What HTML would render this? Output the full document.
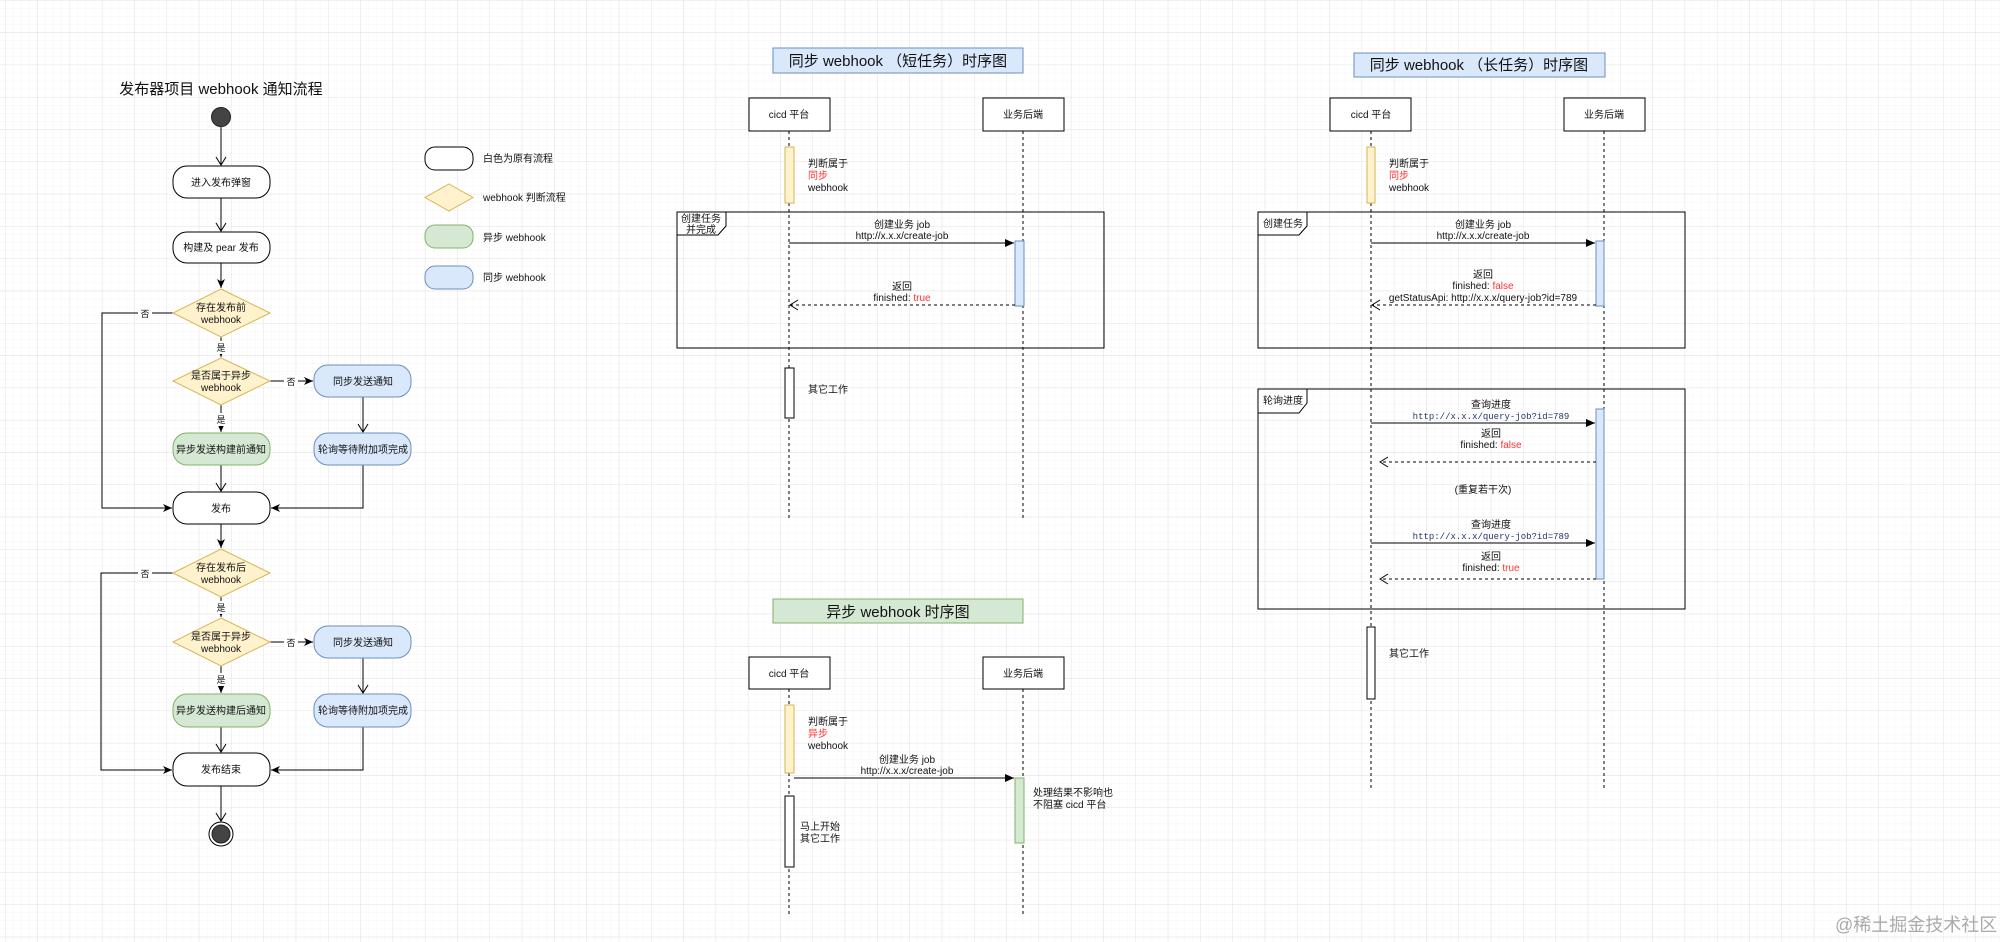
<!DOCTYPE html>
<html><head><meta charset="utf-8"><style>
html,body{margin:0;padding:0;background:#fff}
svg{display:block}
text{font-family:"Liberation Sans","Noto Sans CJK SC",sans-serif;fill:#111}
.t{font-size:10px}
.m{font-family:"Liberation Mono","Noto Sans CJK SC",monospace;font-size:9px;fill:#23356b}
.r{fill:#ff3333}
</style></head><body>
<svg width="2000" height="942" viewBox="0 0 2000 942" xmlns="http://www.w3.org/2000/svg">
<defs>
<pattern id="gmin" x="5" y="0" width="8.075" height="8.075" patternUnits="userSpaceOnUse">
<path d="M0 0H8.075M0 0V8.075" stroke="#f4f4f4" stroke-width="1" fill="none"/></pattern>
<pattern id="gmaj" x="5" y="0" width="32.3" height="32.3" patternUnits="userSpaceOnUse">
<path d="M0 0H32.3M0 0V32.3" stroke="#e3e3e3" stroke-width="1" fill="none"/></pattern>
<marker id="af" markerWidth="10" markerHeight="10" refX="9" refY="5" orient="auto" markerUnits="userSpaceOnUse"><path d="M0 1L9 5L0 9L2.5 5Z" fill="#000"/></marker>
<marker id="ao" markerWidth="10" markerHeight="12" refX="9" refY="6" orient="auto" markerUnits="userSpaceOnUse"><path d="M1 1L9 6L1 11" fill="none" stroke="#000" stroke-width="1"/></marker>
<marker id="sf" markerWidth="10" markerHeight="10" refX="9" refY="5" orient="auto" markerUnits="userSpaceOnUse"><path d="M0 1L9 5L0 9Z" fill="#000"/></marker>
</defs>
<rect width="2000" height="942" fill="#fff"/>
<rect width="2000" height="942" fill="url(#gmin)"/>
<rect width="2000" height="942" fill="url(#gmaj)"/>

<!-- LEFT FLOWCHART -->
<text x="221" y="94" font-size="15" text-anchor="middle">发布器项目 webhook 通知流程</text>
<circle cx="221" cy="117" r="9.5" fill="#444" stroke="#222"/>
<g stroke="#000" stroke-width="1" fill="none">
<path d="M221 127V165" marker-end="url(#ao)"/>
<path d="M221 198V231" marker-end="url(#ao)"/>
<path d="M221 263V288" marker-end="url(#af)"/>
<path d="M221 337V357" marker-end="url(#af)"/>
<path d="M173 313H102V508H172" marker-end="url(#af)"/>
<path d="M270 381H313" marker-end="url(#af)"/>
<path d="M221 405V432" marker-end="url(#af)"/>
<path d="M363 397V432" marker-end="url(#ao)"/>
<path d="M221 465V491" marker-end="url(#ao)"/>
<path d="M363 465V508H271" marker-end="url(#af)"/>
<path d="M221 524V548" marker-end="url(#af)"/>
<path d="M221 597V617" marker-end="url(#af)"/>
<path d="M173 573H101V770H172" marker-end="url(#af)"/>
<path d="M270 642H313" marker-end="url(#af)"/>
<path d="M221 666V693" marker-end="url(#af)"/>
<path d="M363 658V693" marker-end="url(#ao)"/>
<path d="M221 727V752" marker-end="url(#ao)"/>
<path d="M363 727V770H271" marker-end="url(#af)"/>
<path d="M221 786V821" marker-end="url(#ao)"/>
</g>
<g class="t" text-anchor="middle">
<rect x="138" y="306" width="14" height="13" fill="#fff"/><text x="145" y="317" font-size="9">否</text>
<rect x="214" y="341" width="14" height="13" fill="#fff"/><text x="221" y="351" font-size="9">是</text>
<rect x="284" y="375" width="14" height="13" fill="#fff"/><text x="291" y="385" font-size="9">否</text>
<rect x="214" y="413" width="14" height="13" fill="#fff"/><text x="221" y="423" font-size="9">是</text>
<rect x="138" y="566" width="14" height="13" fill="#fff"/><text x="145" y="577" font-size="9">否</text>
<rect x="214" y="601" width="14" height="13" fill="#fff"/><text x="221" y="611" font-size="9">是</text>
<rect x="284" y="636" width="14" height="13" fill="#fff"/><text x="291" y="646" font-size="9">否</text>
<rect x="214" y="673" width="14" height="13" fill="#fff"/><text x="221" y="683" font-size="9">是</text>
</g>
<g stroke-width="1">
<rect x="173" y="166" width="97" height="32" rx="14" fill="#fff" stroke="#000"/>
<rect x="173" y="232" width="97" height="31" rx="14" fill="#fff" stroke="#000"/>
<path d="M221 289L270 313L221 337L173 313Z" fill="#fff2cc" stroke="#d6b656"/>
<path d="M221 358L270 381L221 405L173 381Z" fill="#fff2cc" stroke="#d6b656"/>
<rect x="314" y="365" width="97" height="32" rx="14" fill="#dae8fc" stroke="#6c8ebf"/>
<rect x="173" y="433" width="97" height="32" rx="14" fill="#d5e8d4" stroke="#82b366"/>
<rect x="314" y="433" width="97" height="32" rx="14" fill="#dae8fc" stroke="#6c8ebf"/>
<rect x="173" y="492" width="97" height="32" rx="14" fill="#fff" stroke="#000"/>
<path d="M221 549L270 573L221 597L173 573Z" fill="#fff2cc" stroke="#d6b656"/>
<path d="M221 618L270 642L221 666L173 642Z" fill="#fff2cc" stroke="#d6b656"/>
<rect x="314" y="626" width="97" height="32" rx="14" fill="#dae8fc" stroke="#6c8ebf"/>
<rect x="173" y="694" width="97" height="33" rx="14" fill="#d5e8d4" stroke="#82b366"/>
<rect x="314" y="694" width="97" height="33" rx="14" fill="#dae8fc" stroke="#6c8ebf"/>
<rect x="173" y="753" width="97" height="33" rx="14" fill="#fff" stroke="#000"/>
</g>
<circle cx="221" cy="834" r="12" fill="#fff" stroke="#000"/>
<circle cx="221" cy="834" r="9" fill="#444" stroke="#222"/>
<g class="t" text-anchor="middle">
<text x="221" y="186">进入发布弹窗</text>
<text x="221" y="251">构建及 pear 发布</text>
<text x="221" y="311">存在发布前</text><text x="221" y="323">webhook</text>
<text x="221" y="379">是否属于异步</text><text x="221" y="391">webhook</text>
<text x="363" y="385">同步发送通知</text>
<text x="221" y="453">异步发送构建前通知</text>
<text x="363" y="453">轮询等待附加项完成</text>
<text x="221" y="512">发布</text>
<text x="221" y="571">存在发布后</text><text x="221" y="583">webhook</text>
<text x="221" y="640">是否属于异步</text><text x="221" y="652">webhook</text>
<text x="363" y="646">同步发送通知</text>
<text x="221" y="714">异步发送构建后通知</text>
<text x="363" y="714">轮询等待附加项完成</text>
<text x="221" y="773">发布结束</text>
</g>
<!-- legend -->
<rect x="425" y="147" width="48" height="23" rx="10" fill="#fff" stroke="#000"/>
<path d="M449 184L473 197.5L449 211L425 197.5Z" fill="#fff2cc" stroke="#d6b656"/>
<rect x="425" y="225" width="48" height="23" rx="10" fill="#d5e8d4" stroke="#82b366"/>
<rect x="425" y="266" width="48" height="23" rx="10" fill="#dae8fc" stroke="#6c8ebf"/>
<g class="t" font-size="9.5">
<text x="483" y="162">白色为原有流程</text>
<text x="483" y="201">webhook 判断流程</text>
<text x="483" y="241">异步 webhook</text>
<text x="483" y="281">同步 webhook</text>
</g>

<!-- MIDDLE: sync short -->
<rect x="773" y="48" width="250" height="25" fill="#dae8fc" stroke="#6c8ebf"/>
<text x="898" y="66" font-size="15" text-anchor="middle">同步 webhook （短任务）时序图</text>
<g stroke="#000" stroke-dasharray="3,3" fill="none">
<path d="M789 131V518"/><path d="M1023 131V518"/>
</g>
<rect x="749" y="98" width="81" height="33" fill="#fff" stroke="#000"/>
<rect x="983" y="98" width="81" height="33" fill="#fff" stroke="#000"/>
<text class="t" x="789" y="118" text-anchor="middle">cicd 平台</text>
<text class="t" x="1023" y="118" text-anchor="middle">业务后端</text>
<rect x="785" y="147" width="9" height="56" fill="#fff2cc" stroke="#d6b656"/>
<g class="t"><text x="808" y="167">判断属于</text><text x="808" y="179" class="r">同步</text><text x="808" y="191">webhook</text></g>
<rect x="677" y="212" width="427" height="136" fill="none" stroke="#000"/>
<path d="M677 212H726V226L718 235H677Z" fill="#fff" stroke="#000"/>
<text class="t" x="701" y="222" text-anchor="middle">创建任务</text><text class="t" x="701" y="233" text-anchor="middle">并完成</text>
<rect x="1015" y="241" width="9" height="65" fill="#dae8fc" stroke="#6c8ebf"/>
<path d="M789 243H1014" stroke="#000" marker-end="url(#sf)"/>
<g class="t" font-size="9" text-anchor="middle"><text x="902" y="228">创建业务 job</text><text x="902" y="239">http://x.x.x/create-job</text>
<text x="902" y="290">返回</text><text x="902" y="301">finished: <tspan class="r">true</tspan></text></g>
<path d="M1015 305H790" stroke="#000" stroke-dasharray="3,3" marker-end="url(#ao)"/>
<rect x="785" y="368" width="9" height="50" fill="#fff" stroke="#000"/>
<text class="t" x="808" y="393">其它工作</text>

<!-- MIDDLE: async -->
<rect x="773" y="599" width="250" height="24" fill="#d5e8d4" stroke="#82b366"/>
<text x="898" y="617" font-size="15" text-anchor="middle">异步 webhook 时序图</text>
<g stroke="#000" stroke-dasharray="3,3" fill="none">
<path d="M789 689V917"/><path d="M1023 689V917"/>
</g>
<rect x="749" y="657" width="81" height="32" fill="#fff" stroke="#000"/>
<rect x="983" y="657" width="81" height="32" fill="#fff" stroke="#000"/>
<text class="t" x="789" y="677" text-anchor="middle">cicd 平台</text>
<text class="t" x="1023" y="677" text-anchor="middle">业务后端</text>
<rect x="785" y="705" width="9" height="68" fill="#fff2cc" stroke="#d6b656"/>
<g class="t"><text x="808" y="725">判断属于</text><text x="808" y="737" class="r">异步</text><text x="808" y="749">webhook</text></g>
<rect x="1015" y="778" width="9" height="65" fill="#d5e8d4" stroke="#82b366"/>
<path d="M794 778H1014" stroke="#000" marker-end="url(#sf)"/>
<g class="t" font-size="9" text-anchor="middle"><text x="907" y="763">创建业务 job</text><text x="907" y="774">http://x.x.x/create-job</text></g>
<g class="t"><text x="1033" y="796">处理结果不影响也</text><text x="1033" y="808">不阻塞 cicd 平台</text></g>
<rect x="785" y="796" width="9" height="71" fill="#fff" stroke="#000"/>
<g class="t"><text x="800" y="830">马上开始</text><text x="800" y="842">其它工作</text></g>

<!-- RIGHT: sync long -->
<rect x="1354" y="53" width="251" height="24" fill="#dae8fc" stroke="#6c8ebf"/>
<text x="1479" y="70" font-size="15" text-anchor="middle">同步 webhook （长任务）时序图</text>
<g stroke="#000" stroke-dasharray="3,3" fill="none">
<path d="M1371 131V790"/><path d="M1604 131V790"/>
</g>
<rect x="1330" y="98" width="81" height="33" fill="#fff" stroke="#000"/>
<rect x="1564" y="98" width="81" height="33" fill="#fff" stroke="#000"/>
<text class="t" x="1371" y="118" text-anchor="middle">cicd 平台</text>
<text class="t" x="1604" y="118" text-anchor="middle">业务后端</text>
<rect x="1367" y="147" width="8" height="56" fill="#fff2cc" stroke="#d6b656"/>
<g class="t"><text x="1389" y="167">判断属于</text><text x="1389" y="179" class="r">同步</text><text x="1389" y="191">webhook</text></g>
<rect x="1258" y="212" width="427" height="136" fill="none" stroke="#000"/>
<path d="M1258 212H1307V226L1299 235H1258Z" fill="#fff" stroke="#000"/>
<text class="t" x="1263" y="227">创建任务</text>
<rect x="1596" y="241" width="8" height="65" fill="#dae8fc" stroke="#6c8ebf"/>
<path d="M1371 243H1595" stroke="#000" marker-end="url(#sf)"/>
<g class="t" font-size="9" text-anchor="middle"><text x="1483" y="228">创建业务 job</text><text x="1483" y="239">http://x.x.x/create-job</text>
<text x="1483" y="278">返回</text><text x="1483" y="289">finished: <tspan class="r">false</tspan></text></g>
<text class="t" x="1483" y="301" text-anchor="middle">getStatusApi: http://x.x.x/query-job?id=789</text>
<path d="M1596 305H1372" stroke="#000" stroke-dasharray="3,3" marker-end="url(#ao)"/>

<rect x="1258" y="389" width="427" height="220" fill="none" stroke="#000"/>
<path d="M1258 389H1307V403L1299 413H1258Z" fill="#fff" stroke="#000"/>
<text class="t" x="1263" y="404">轮询进度</text>
<rect x="1596" y="409" width="8" height="170" fill="#dae8fc" stroke="#6c8ebf"/>
<path d="M1371 423H1595" stroke="#000" marker-end="url(#sf)"/>
<g text-anchor="middle">
<text class="t" font-size="9" x="1491" y="408">查询进度</text><text class="m" x="1491" y="419">http://x.x.x/query-job?id=789</text>
<text class="t" font-size="9" x="1491" y="437">返回</text><text class="t" font-size="9" x="1491" y="448">finished: <tspan class="r">false</tspan></text>
<text class="t" x="1483" y="493">(重复若干次)</text>
<text class="t" font-size="9" x="1491" y="528">查询进度</text><text class="m" x="1491" y="539">http://x.x.x/query-job?id=789</text>
<text class="t" font-size="9" x="1491" y="560">返回</text><text class="t" font-size="9" x="1491" y="571">finished: <tspan class="r">true</tspan></text>
</g>
<path d="M1596 462H1380" stroke="#000" stroke-dasharray="3,3" marker-end="url(#ao)"/>
<path d="M1371 543H1595" stroke="#000" marker-end="url(#sf)"/>
<path d="M1596 579H1380" stroke="#000" stroke-dasharray="3,3" marker-end="url(#ao)"/>
<rect x="1367" y="627" width="8" height="72" fill="#fff" stroke="#000"/>
<text class="t" x="1389" y="657">其它工作</text>

<text x="1835" y="931" font-size="18" fill="#aaa" style="fill:#aaa">@稀土掘金技术社区</text>
</svg>
</body></html>
